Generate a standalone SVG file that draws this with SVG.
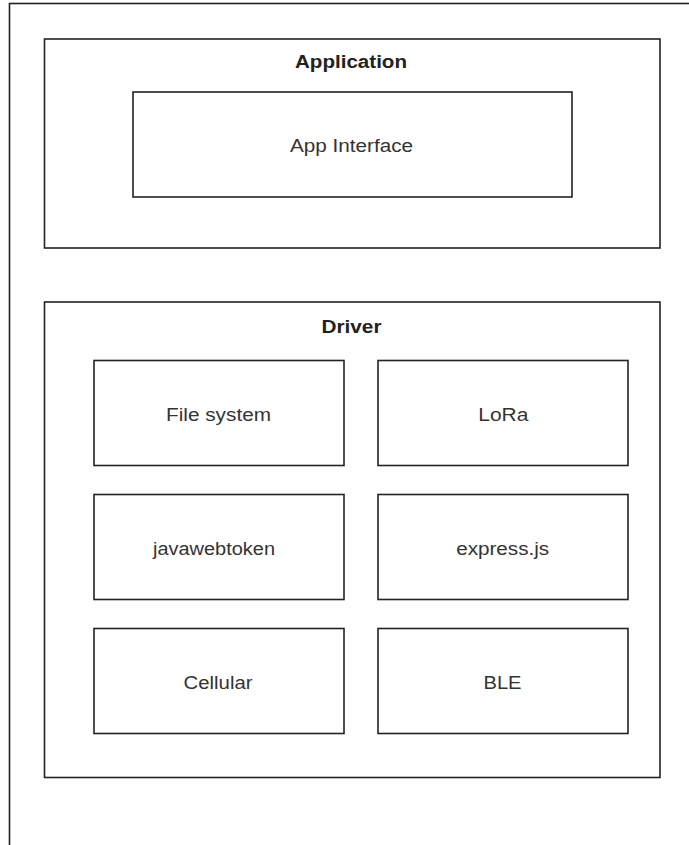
<svg xmlns="http://www.w3.org/2000/svg" width="689" height="845" viewBox="0 0 689 845">
<style>
.box{fill:#fff;stroke:#222;stroke-width:1.6}
.t{font-family:"Liberation Sans",Arial,sans-serif;font-size:17.5px;fill:#333;text-anchor:middle}
.b{font-weight:bold;fill:#222}
</style>
<rect width="689" height="845" fill="#fff"/>
<g id="outer"><rect class="box" x="9.5" y="3.5" width="700" height="860"/></g>
<g id="application">
<rect class="box" x="44.5" y="39" width="615.5" height="209"/>
<text class="t b" x="351" y="68" textLength="112" lengthAdjust="spacingAndGlyphs">Application</text>
</g>
<g id="app-interface">
<rect class="box" x="133" y="92" width="439" height="105"/>
<text class="t" x="351.5" y="152" textLength="123" lengthAdjust="spacingAndGlyphs">App Interface</text>
</g>
<g id="driver">
<rect class="box" x="44.5" y="302" width="615.5" height="475.5"/>
<text class="t b" x="351.5" y="332.5" textLength="60" lengthAdjust="spacingAndGlyphs">Driver</text>
</g>
<g id="file-system"><rect class="box" x="94" y="360.5" width="250" height="105"/><text class="t" x="218.5" y="421" textLength="105" lengthAdjust="spacingAndGlyphs">File system</text></g>
<g id="lora"><rect class="box" x="378" y="360.5" width="250" height="105"/><text class="t" x="503.3" y="421" textLength="50" lengthAdjust="spacingAndGlyphs">LoRa</text></g>
<g id="javawebtoken"><rect class="box" x="94" y="494.5" width="250" height="105"/><text class="t" x="214" y="555" textLength="122" lengthAdjust="spacingAndGlyphs">javawebtoken</text></g>
<g id="express"><rect class="box" x="378" y="494.5" width="250" height="105"/><text class="t" x="502.7" y="555" textLength="93" lengthAdjust="spacingAndGlyphs">express.js</text></g>
<g id="cellular"><rect class="box" x="94" y="628.5" width="250" height="105"/><text class="t" x="218" y="689" textLength="69" lengthAdjust="spacingAndGlyphs">Cellular</text></g>
<g id="ble"><rect class="box" x="378" y="628.5" width="250" height="105"/><text class="t" x="502.5" y="689" textLength="38" lengthAdjust="spacingAndGlyphs">BLE</text></g>
<g id="connectors"></g>
</svg>
